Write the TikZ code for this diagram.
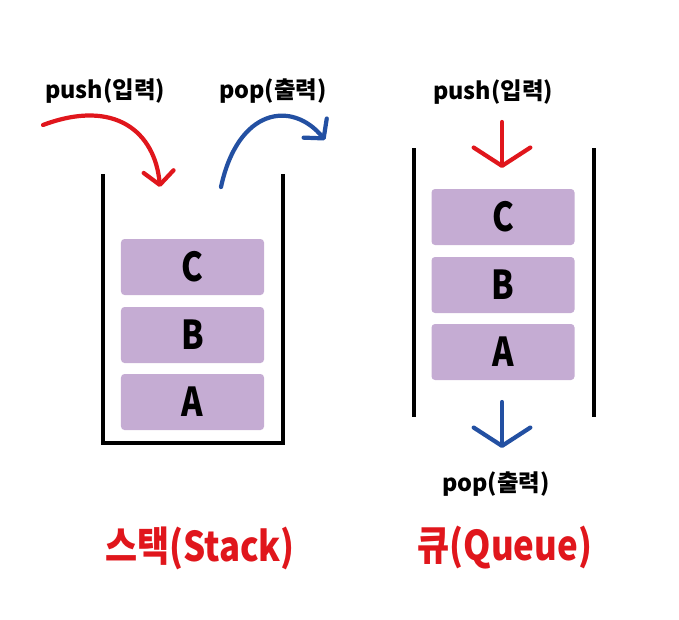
\documentclass[tikz,border=0pt]{standalone}
\usepackage{fontspec}
\setmainfont{Noto Sans CJK KR}
\usepackage{tikz}
\usetikzlibrary{arrows.meta,positioning}
\definecolor{boxpurple}{HTML}{C5ACD3}
\definecolor{pushred}{HTML}{E0161C}
\definecolor{popblue}{HTML}{2350A2}
\tikzset{
  wall/.style={line width=3.4pt},
  elem/.style={fill=boxpurple, rounded corners=3pt, minimum width=4.29cm, minimum height=1.68cm},
  elemtext/.style={xscale=0.82, font=\fontsize{34}{36}\selectfont\bfseries},
  oplabel/.style={font=\fontsize{20}{22}\selectfont\bfseries},
  title/.style={text=pushred, xscale=0.85, font=\fontsize{35}{38}\selectfont\bfseries},
  curvearrow/.style={line width=3.6pt, line cap=round, -{Straight Barb[length=4mm,width=9mm,round]}},
  droparrow/.style={line width=3.6pt, line cap=round, -{Straight Barb[length=5.5mm,width=17mm,round]}}
}
\begin{document}
\begin{tikzpicture}[x=0.03cm, y=-0.03cm]
  \useasboundingbox (0,0) rectangle (679,619);
  % stack
  \draw[wall] (103,174) -- (103,443) -- (283,443) -- (283,174);
  \foreach \i/\y/\name in {0/402/A,1/335/B,2/267/C} {
    \node[elem] (S\name) at (192.5,\y) {};
    \node[elemtext] (S\name t) at (S\name) {\name};
  }
  \node[oplabel] (spush) at (105,91) {push(입력)};
  \node[oplabel] (spop) at (273,91) {pop(출력)};
  \coordinate (sin0) at (43,125);
  \coordinate (sin1) at (160,187);
  \coordinate (sout0) at (221,187);
  \coordinate (sout1) at (325,140);
  \draw[curvearrow, pushred] (sin0) .. controls (115,98) and (155,132) .. (sin1);
  \draw[curvearrow, popblue] (sout0) .. controls (238,108) and (292,100) .. (sout1);
  \node[title] (stitle) at (200,548) {스택(Stack)};
  % queue
  \draw[wall] (414,148) -- (414,417);
  \draw[wall] (594,148) -- (594,417);
  \foreach \i/\y/\name in {0/352/A,1/285/B,2/217/C} {
    \node[elem] (Q\name) at (503,\y) {};
    \node[elemtext] (Q\name t) at (Q\name) {\name};
  }
  \node[oplabel] (qpush) at (493,92) {push(입력)};
  \node[oplabel] (qpop) at (496,484) {pop(출력)};
  \coordinate (qin0) at (502,122);
  \coordinate (qin1) at (502,168);
  \coordinate (qout0) at (502,402);
  \coordinate (qout1) at (502,448);
  \draw[droparrow, pushred] (qin0) -- (qin1);
  \draw[droparrow, popblue] (qout0) -- (qout1);
  \node[title] (qtitle) at (505,548) {큐(Queue)};
\end{tikzpicture}
\end{document}
